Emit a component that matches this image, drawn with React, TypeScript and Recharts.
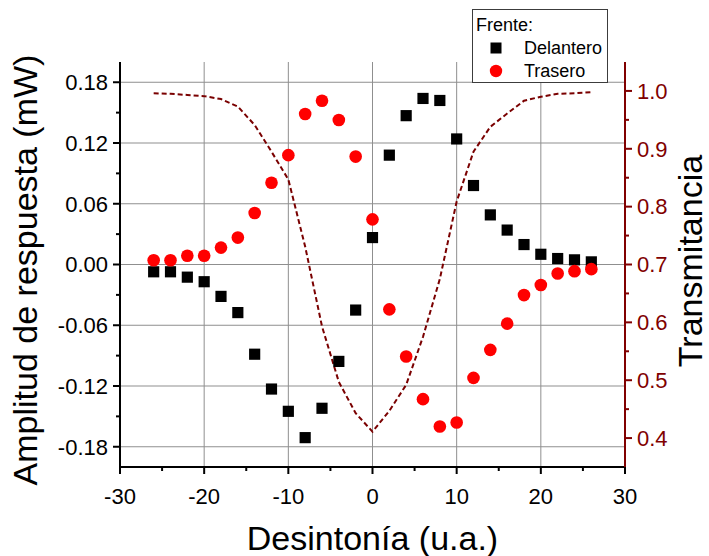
import { CartesianGrid, ComposedChart, Label, Legend, Line, Scatter, XAxis, YAxis, ZAxis } from "recharts";

// detuning values (u.a.) shared by all three series
const detuning = [
  -26, -24, -22, -20, -18, -16, -14, -12, -10, -8, -6, -4, -2, 0, 2, 4, 6, 8, 10, 12, 14, 16, 18,
  20, 22, 24, 26,
];

// response amplitude (mW), front "Delantero"
const delantero = [
  -0.0072, -0.0072, -0.0125, -0.017, -0.0315, -0.0475, -0.0886, -0.123, -0.145, -0.171, -0.142,
  -0.0957, -0.045, 0.0266, 0.108, 0.147, 0.164, 0.162, 0.124, 0.078, 0.049, 0.034, 0.0197, 0.0101,
  0.0059, 0.0046, 0.0026,
];

// response amplitude (mW), front "Trasero"
const trasero = [
  0.0042, 0.0042, 0.0086, 0.0086, 0.0167, 0.0266, 0.0508, 0.0807, 0.108, 0.1486, 0.1617, 0.1427,
  0.1066, 0.0446, -0.0443, -0.0908, -0.133, -0.16, -0.156, -0.112, -0.0843, -0.0584, -0.0302,
  -0.0203, -0.0089, -0.0066, -0.0046,
];

// transmittance (right axis)
const transmitancia = [
  0.996, 0.995, 0.993, 0.991, 0.986, 0.973, 0.941, 0.895, 0.847, 0.731, 0.593, 0.497, 0.443, 0.411,
  0.447, 0.492, 0.575, 0.675, 0.809, 0.895, 0.938, 0.961, 0.983, 0.99, 0.995, 0.996, 0.998,
];

const xMajor = [-30, -20, -10, 0, 10, 20, 30];
const xMinor = [-25, -15, -5, 5, 15, 25];
const xGrid = [-20, -10, 0, 10, 20];
const ampMajor = [-0.18, -0.12, -0.06, 0, 0.06, 0.12, 0.18];
const ampMinor = [-0.15, -0.09, -0.03, 0.03, 0.09, 0.15];
const transMajor = [0.4, 0.5, 0.6, 0.7, 0.8, 0.9, 1.0];
const transMinor = [0.45, 0.55, 0.65, 0.75, 0.85, 0.95];

const delData = detuning.map((x, i) => ({ x, y: delantero[i] }));
const trasData = detuning.map((x, i) => ({ x, y: trasero[i] }));
const transData = detuning.map((x, i) => ({ x, t: transmitancia[i] }));

const FONT = '"Liberation Sans", Arial, Helvetica, sans-serif';
const DARK_RED = "#800000";
const GRID = "#8f8f8f";

// layout
const W = 709;
const H = 556;
const TOP = 62;
const LEFT_W = 120;
const RIGHT_W = 84;
const BOTTOM_H = 89;

const TICK_LEN = 7;
const MINOR_LEN = 4;
const GAP = 5;
const X_GAP = 14;

const isIn = (v: number, list: number[]) => list.some((m) => Math.abs(m - v) < 1e-9);

function LeftTick(props: any) {
  const { x, y, payload } = props;
  const v = payload.value as number;
  const major = isIn(v, ampMajor);
  const ax = x + TICK_LEN + GAP;
  return (
    <g>
      <line x1={ax - (major ? TICK_LEN : MINOR_LEN)} x2={ax} y1={y} y2={y} stroke="#000" strokeWidth={2} />
      {major && (
        <text x={x} y={y} dy="0.355em" textAnchor="end" fontSize={22} fontFamily={FONT} fill="#000">
          {v.toFixed(2)}
        </text>
      )}
    </g>
  );
}

function RightTick(props: any) {
  const { x, y, payload } = props;
  const v = payload.value as number;
  const major = isIn(v, transMajor);
  const ax = x - TICK_LEN - GAP;
  return (
    <g>
      <line x1={ax} x2={ax + (major ? TICK_LEN : MINOR_LEN)} y1={y} y2={y} stroke={DARK_RED} strokeWidth={2} />
      {major && (
        <text x={x} y={y} dy="0.355em" textAnchor="start" fontSize={22} fontFamily={FONT} fill={DARK_RED}>
          {v.toFixed(1)}
        </text>
      )}
    </g>
  );
}

function BottomTick(props: any) {
  const { x, y, payload } = props;
  const v = payload.value as number;
  const major = isIn(v, xMajor);
  const ay = y - TICK_LEN - X_GAP;
  return (
    <g>
      <line x1={x} x2={x} y1={ay} y2={ay + (major ? TICK_LEN : MINOR_LEN)} stroke="#000" strokeWidth={2} />
      {major && (
        <text x={x} y={y} dy="0.71em" textAnchor="middle" fontSize={22} fontFamily={FONT} fill="#000">
          {String(v)}
        </text>
      )}
    </g>
  );
}

function TopTick(props: any) {
  const { x, y, payload } = props;
  const v = payload.value as number;
  const major = isIn(v, xMajor);
  const ay = y + TICK_LEN + GAP;
  return <line x1={x} x2={x} y1={ay - (major ? TICK_LEN : MINOR_LEN)} y2={ay} stroke="#000" strokeWidth={2} />;
}

const legendItems = [
  { name: "Delantero", color: "#000000", shape: "square" },
  { name: "Trasero", color: "#ff0000", shape: "circle" },
];

function LegendBox() {
  return (
    <div
      style={{
        position: "relative",
        width: 136,
        height: 74,
        border: "1px solid #3c3c3c",
        background: "#fff",
        fontFamily: FONT,
        fontSize: 18,
        color: "#000",
        boxSizing: "border-box",
      }}
    >
      <div style={{ position: "absolute", left: 3, top: 4, lineHeight: "22px" }}>Frente:</div>
      {legendItems.map((item, i) => (
        <div key={item.name} style={{ position: "absolute", left: 0, top: 27 + i * 23, height: 22, width: 136 }}>
          <svg width={24} height={22} style={{ position: "absolute", left: 11, top: 0 }}>
            {item.shape === "square" ? (
              <rect x={6.5} y={5.5} width={11} height={11} fill={item.color} />
            ) : (
              <circle cx={12} cy={11} r={6.2} fill={item.color} />
            )}
          </svg>
          <span style={{ position: "absolute", left: 51, top: 0, lineHeight: "22px" }}>{item.name}</span>
        </div>
      ))}
    </div>
  );
}

export default function App() {
  return (
    <div style={{ position: "absolute", left: 0, top: 0, background: "#fff" }}>
      <ComposedChart width={W} height={H} margin={{ top: TOP, right: 0, bottom: 0, left: 0 }}>
        <CartesianGrid
          horizontalValues={ampMajor}
          verticalValues={xGrid}
          stroke={GRID}
          strokeWidth={1}
        />
        <XAxis
          type="number"
          dataKey="x"
          domain={[-30, 30]}
          ticks={[...xMajor, ...xMinor]}
          height={BOTTOM_H}
          tickSize={TICK_LEN}
          tickMargin={X_GAP}
          tickLine={false}
          tick={BottomTick}
          axisLine={{ stroke: "#000", strokeWidth: 2 }}
          interval={0}
        >
          <Label
            content={(p: any) => {
              const vb = p.viewBox || { x: LEFT_W, width: W - LEFT_W - RIGHT_W };
              return (
                <text x={vb.x + vb.width / 2} y={550} textAnchor="middle" fontSize={34} fontFamily={FONT} fill="#000">
                  Desintonía (u.a.)
                </text>
              );
            }}
          />
        </XAxis>
        <XAxis
          xAxisId="top"
          orientation="top"
          type="number"
          dataKey="x"
          domain={[-30, 30]}
          ticks={[...xMajor, ...xMinor]}
          height={0}
          tickSize={TICK_LEN}
          tickMargin={GAP}
          tickLine={false}
          tick={TopTick}
          axisLine={{ stroke: "#000", strokeWidth: 2 }}
          interval={0}
        />
        <YAxis
          type="number"
          domain={[-0.2, 0.2]}
          ticks={[...ampMajor, ...ampMinor]}
          width={LEFT_W}
          tickSize={TICK_LEN}
          tickMargin={GAP}
          tickLine={false}
          tick={LeftTick}
          axisLine={{ stroke: "#000", strokeWidth: 2 }}
          interval={0}
        >
          <Label
            content={() => (
              <text
                x={37}
                y={270}
                transform="rotate(-90, 37, 270)"
                textAnchor="middle"
                fontSize={34}
                fontFamily={FONT}
                fill="#000"
              >
                Amplitud de respuesta (mW)
              </text>
            )}
          />
        </YAxis>
        <YAxis
          yAxisId="right"
          orientation="right"
          type="number"
          domain={[0.35, 1.05]}
          ticks={[...transMajor, ...transMinor]}
          width={RIGHT_W}
          tickSize={TICK_LEN}
          tickMargin={GAP}
          tickLine={false}
          tick={RightTick}
          axisLine={{ stroke: DARK_RED, strokeWidth: 2 }}
          interval={0}
        >
          <Label
            content={() => (
              <text
                x={702}
                y={261}
                transform="rotate(-90, 702, 261)"
                textAnchor="middle"
                fontSize={34}
                fontFamily={FONT}
                fill="#000"
              >
                Transmitancia
              </text>
            )}
          />
        </YAxis>
        <ZAxis range={[125, 125]} />
        <Line
          yAxisId="right"
          data={transData}
          dataKey="t"
          type="linear"
          stroke="#7a0000"
          strokeWidth={2}
          strokeDasharray="5 3"
          dot={false}
          legendType="none"
          isAnimationActive={false}
        />
        <Scatter
          name="Delantero"
          data={delData}
          dataKey="y"
          fill="#000000"
          shape="square"
          isAnimationActive={false}
        />
        <Scatter
          name="Trasero"
          data={trasData}
          dataKey="y"
          fill="#ff0000"
          shape="circle"
          isAnimationActive={false}
        />
        <Legend
          layout="horizontal"
          verticalAlign="middle"
          align="center"
          wrapperStyle={{ left: 472, top: 9, width: 136, height: 74 }}
          content={LegendBox}
        />
      </ComposedChart>
    </div>
  );
}
